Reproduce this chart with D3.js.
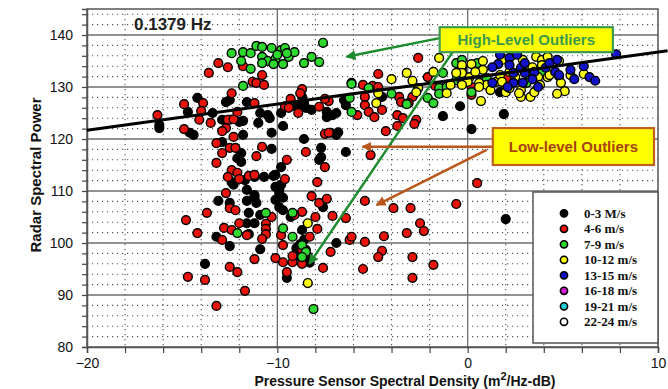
<!DOCTYPE html>
<html><head><meta charset="utf-8">
<script src="https://cdn.jsdelivr.net/npm/d3@7"></script>
<style>
html,body{margin:0;padding:0;background:#fff;}
svg{display:block;font-family:"Liberation Sans",Arial,sans-serif;}
</style></head><body>
<svg id="chart" width="668" height="389"></svg>
<script>
// ---------- DATA ----------
const xTickLabels = [-20, -10, 0, 10];
const yTickLabels = [80, 90, 100, 110, 120, 130, 140];
const seriesNames = ["0-3 M/s","4-6 m/s","7-9 m/s","10-12 m/s","13-15 m/s","16-18 m/s","19-21 m/s","22-24 m/s"];
const seriesColors = ["#000000","#e8140c","#2ed82e","#ffff14","#1212c8","#d21ed2","#1ed2dc","#ffffff"];

const wind0_3 = [
[-14.2,127.9],[-14.7,125.2],[-16.2,122.7],[-16.2,122.1],[-14.6,121.2],[-14.4,120.8],[-12.7,127.1],[-12.5,127.5],[-12.9,123.7],[-12.5,123.7],[-11.8,123.5],[-11.6,127.1],[-11.8,120.8],[-11.9,117.3],[-12.1,116.3],[-12.4,111.7],[-12.3,111.2],[-11.7,112.1],[-11.2,112.7],[-10.9,125.0],[-11.0,123.1],[-10.5,124.6],[-10.4,124.0],[-10.3,118.1],[-9.8,125.0],[-9.7,122.5],[-9.8,114.6],[-10.1,113.1],[-9.8,111.2],[-9.9,110.2],[-8.6,126.9],[-8.5,126.0],[-8.2,125.6],[-8.6,120.0],[-7.7,118.3],[-7.7,116.5],[-7.8,116.0],[-7.4,125.2],[-7.4,124.2],[-7.1,124.6],[-6.9,120.8],[-11.6,110.2],[-11.2,109.2],[-13.4,125.0],[-12.0,123.3],[-10.3,121.2],[-12.9,119.4],[-11.9,115.6],[-9.0,126.2],[-8.7,128.1],[-0.4,126.3],[-1.3,124.4],[1.9,124.8],[0.2,121.9],[-6.4,117.5],[-7.3,124.6],[-6.9,125.0],[-7.2,121.2],[-6.8,121.3],[-6.5,127.5],[-6.4,126.5],[-4.5,128.1],[1.7,129.0],
[-10.7,112.7],[-10.2,112.9],[-11.6,108.1],[-11.2,108.8],[-11.1,107.7],[-13.1,108.1],[-12.5,107.7],[-11.5,105.8],[-10.9,105.4],[-11.2,103.8],[-11.6,103.8],[-11.5,101.7],[-10.1,110.8],[-9.9,109.6],[-10.1,108.3],[-9.7,108.7],[-9.9,106.9],[-9.7,106.3],[-9.3,105.0],[-8.7,102.5],[-13.2,101.2],[-12.5,99.4],[-10.9,98.8],[-13.8,96.0],[-9.5,93.3],[-8.3,96.2],[-6.9,100.0],[-7.6,106.9],[2.0,104.6],[-9.0,99.0],[-8.8,99.8],[-8.5,98.7],[-8.9,97.5],[-8.4,97.5],[-8.6,100.6]
];
const wind4_6 = [
[-13.6,132.7],[-13.1,134.6],[-12.6,133.8],[-11.8,134.0],[-11.3,131.0],[-10.8,132.3],[-11.1,130.8],[-10.7,130.4],[-12.4,128.8],[-8.7,129.6],[-8.8,128.8],[-9.3,127.7],
[-4.7,132.5],[-2.6,135.6],[-5.5,130.4],[-5.0,130.2],[-4.7,130.0],[-5.4,128.1],[-6.1,130.8],[-3.6,128.1],[-2.9,128.1],[-3.5,127.1],[-2.1,131.9],[-1.7,130.2],[-1.1,130.4],[-0.3,133.7],[-0.4,132.3],[0.2,130.0],[2.3,131.3],[2.1,131.7],[0.2,128.5],[-3.1,126.9],[-7.3,127.3],[-7.5,127.7],[-7.8,126.2],
[-14.9,126.7],[-13.9,126.9],[-14.0,125.4],[-14.1,123.7],[-13.5,123.1],[-14.9,121.9],[-16.3,124.6],[-12.6,123.7],[-12.3,123.8],[-12.1,125.2],[-12.7,122.1],[-12.9,121.5],[-12.3,120.4],[-13.2,119.2],[-12.9,117.3],[-12.5,118.3],[-12.2,118.3],[-13.2,115.4],[-12.4,114.0],[-11.2,126.9],[-9.6,126.3],[-9.4,126.0],[-8.9,125.0],[-8.5,117.5],[-9.5,116.0],[-7.5,121.0],[-7.3,121.2],[-7.5,114.6],[-7.9,111.7],[-9.6,112.3],[-11.1,116.7],[-10.8,118.5],
[-5.4,126.5],[-5.2,125.2],[-5.8,124.6],[-4.9,124.2],[-4.5,125.6],[-3.7,124.6],[-2.7,123.7],[-2.8,122.9],[-3.4,124.0],[-3.7,122.5],[-4.3,121.5],[-5.1,116.9],[0.5,111.5],
[-12.1,113.5],[-12.6,112.7],[-12.0,112.3],[-11.5,112.9],[-11.2,113.1],[-12.7,109.6],[-12.5,106.7],[-12.2,106.3],[-13.7,105.8],[-14.8,104.4],[-14.2,101.9],[-12.8,102.9],[-12.4,102.5],[-12.0,103.8],[-12.9,100.6],[-10.6,103.7],[-10.6,102.7],[-10.6,101.7],[-10.8,100.8],[-9.8,101.5],[-8.7,106.0],[-9.1,105.4],[-9.7,99.6],[-11.2,96.9],[-10.1,97.1],[-9.7,96.3],[-9.2,96.3],[-8.7,96.0],[-12.5,95.4],[-12.1,94.4],[-14.7,93.5],[-13.8,92.9],[-9.5,94.4],[-11.7,90.8],[-13.2,87.9],
[-11.6,101.5],[-10.3,105.0],[-8.2,109.0],[-8.0,105.0],[-7.9,102.7],[-7.8,107.7],[-7.6,95.2],[-7.4,108.5],[-7.1,105.2],[-7.2,98.3],[-8.3,101.2],[-9.2,97.5],[-6.4,104.8],[-5.4,108.1],[-3.9,106.7],[-3.0,106.7],[-0.6,107.5],[-2.5,103.8],[-2.3,102.3],[-3.2,101.9],[-4.4,101.3],[-5.4,100.2],[-6.2,100.6],[-6.1,101.2],[-4.5,98.5],[-4.7,97.3],[-2.9,97.3],[-1.8,95.8],[-5.5,95.0],[-2.9,93.3],[-8.7,98.7]
];
const wind7_9 = [
[-12.4,136.5],[-11.8,136.7],[-11.4,136.5],[-11.1,137.9],[-10.8,137.7],[-10.3,137.5],[-9.8,137.1],[-9.6,137.5],[-9.4,135.8],[-9.1,136.7],[-11.9,135.0],[-11.4,133.5],[-10.8,135.8],[-10.5,135.0],[-10.8,134.6],[-10.1,135.4],[-10.2,134.4],[-9.7,134.4],[-10.0,136.2],[-9.5,136.5],[-8.6,134.6],[-8.2,135.8],[-7.8,134.8],[-7.6,138.5],[-11.8,130.2],
[-6.1,130.6],[-6.2,127.9],[-5.2,129.8],[-4.0,128.7],[-3.2,126.7],[-2.1,127.9],[-1.8,126.9],[-1.5,129.8],[-1.5,128.7],[-0.6,134.6],[-0.3,135.2],[0.5,134.6],[0.2,129.0],[1.0,131.7],[3.2,131.3],[3.4,132.7],[3.9,132.7],[-0.3,132.9],[-0.6,131.3],[-1.1,130.0],[-1.3,132.7],[-6.1,125.2],[3.1,130.8],
[-10.6,105.8],[-9.2,105.8],[-12.1,101.9],[-9.7,102.8],[-9.2,101.2],[-8.7,99.6],[-8.5,98.3],[-8.7,97.3],[-8.1,87.3]
];
const wind10_12 = [
[-3.2,132.7],[-4.0,131.5],[-2.9,131.2],[-1.8,132.9],[-1.5,135.6],[-4.8,126.9],[-2.6,129.8],[-0.9,130.4],[-1.1,128.8],[0.2,134.4],[0.8,135.0],[0.8,133.3],[1.0,130.4],[0.7,127.3],[1.5,131.0],[2.0,129.0],[2.8,129.4],[2.8,128.1],[3.3,128.1],[2.9,135.2],[3.6,135.8],[3.9,135.2],[4.8,135.0],[4.8,132.1],[4.9,130.8],[5.1,129.2],[4.7,128.7],[4.2,131.9],[3.7,131.9],[2.5,131.9],[1.7,132.3],[2.2,132.9],[0.1,131.9],[-0.3,131.0],[0.6,130.8],[6.1,132.5],[3.8,130.4],[-0.3,134.2],[0.4,132.9],[-0.3,132.7],[0.0,131.0],[0.6,130.0],[1.2,129.4],[1.8,131.0],[2.2,129.8],[2.7,128.8],[3.4,133.8],[4.3,132.3],[5.4,132.3],[3.5,129.0],[1.8,135.2],[2.4,136.2],[4.2,135.8],[3.9,134.2],[-4.7,128.8],[-2.7,129.0],[-0.3,130.4],[-0.6,132.7],
[-8.4,103.8],[-8.4,92.3]
];
const wind13_15 = [
[1.7,136.2],[2.2,135.6],[2.6,136.2],[2.2,134.2],[1.6,134.4],[1.3,133.8],[2.8,133.7],[2.4,132.7],[3.0,132.7],[3.5,132.9],[4.1,133.7],[4.3,134.6],[4.6,132.9],[4.8,132.3],[5.4,133.3],[6.1,134.0],[5.6,131.5],[6.4,131.9],[6.7,131.2],[7.8,136.3],[3.7,130.0],[2.4,130.8],[1.3,130.8],[2.1,130.0],[3.4,131.5],[3.0,134.6],[4.7,135.2],[2.9,130.8]
];
const wind16_18 = [];
const wind19_21 = [];
const wind22_24 = [];
const seriesData = [wind0_3, wind4_6, wind7_9, wind10_12, wind13_15, wind16_18, wind19_21, wind22_24];

// fitted trend line
const trendIntercept = 131.7, trendSlope = 0.5, trendXStart = -20, trendXEnd = 10.5;

// ---------- LAYOUT ----------
const svg = d3.select("#chart");
const L = 87, R = 658, T = 9, B = 347;
const x = d3.scaleLinear().domain([-20, 10]).range([L, R]);
const y = d3.scaleLinear().domain([80, 145]).range([B, T]);

svg.append("rect").attr("width", 668).attr("height", 389).attr("fill", "#fff");

const minorX = d3.range(-20, 10.001, 2);
const minorY = d3.range(80, 145.001, 2);
const g = svg.append("g");
g.selectAll(".mx").data(minorX.filter(v => v % 10 !== 0)).join("line")
  .attr("x1", d => x(d)).attr("x2", d => x(d)).attr("y1", T).attr("y2", B)
  .attr("stroke", "#555").attr("stroke-width", 1.1).attr("stroke-dasharray", "1.2,3.8");
g.selectAll(".my").data(minorY.filter(v => v % 10 !== 0)).join("line")
  .attr("y1", d => y(d)).attr("y2", d => y(d)).attr("x1", L).attr("x2", R)
  .attr("stroke", "#555").attr("stroke-width", 1.1).attr("stroke-dasharray", "1.2,3.8");
g.selectAll(".Mx").data(xTickLabels.filter(v => v > -20 && v < 10)).join("line")
  .attr("x1", d => x(d)).attr("x2", d => x(d)).attr("y1", T).attr("y2", B)
  .attr("stroke", "#6e6e6e").attr("stroke-width", 1.3);
g.selectAll(".My").data(yTickLabels.filter(v => v > 80)).join("line")
  .attr("y1", d => y(d)).attr("y2", d => y(d)).attr("x1", L).attr("x2", R)
  .attr("stroke", "#6e6e6e").attr("stroke-width", 1.3);
svg.append("rect").attr("x", L).attr("y", T).attr("width", R - L).attr("height", B - T)
  .attr("fill", "none").attr("stroke", "#555").attr("stroke-width", 1.5);

// axes
const xAxis = d3.axisBottom(x).tickValues(minorX).tickSize(6).tickPadding(5)
  .tickFormat(d => xTickLabels.includes(d) ? d3.format("d")(d) : "");
const gx = svg.append("g").attr("transform", `translate(0,${B})`).call(xAxis);
const yAxis = d3.axisLeft(y).tickValues(minorY).tickSize(5).tickPadding(9)
  .tickFormat(d => yTickLabels.includes(d) ? d3.format("d")(d) : "");
const gy = svg.append("g").attr("transform", `translate(${L},0)`).call(yAxis);
[gx, gy].forEach(a => {
  a.select(".domain").attr("stroke", "#555").attr("stroke-width", 1.5);
  a.selectAll(".tick line").attr("stroke", "#444").attr("stroke-width", 1.2);
  a.selectAll("text").attr("font-size", 14).attr("fill", "#111")
    .attr("font-family", '"Liberation Sans",Arial,sans-serif');
});

// axis titles
const xt = svg.append("text").attr("x", 405).attr("y", 386).attr("text-anchor", "middle")
  .attr("font-size", 14).attr("font-weight", "bold").attr("fill", "#111");
xt.append("tspan").text("Pressure Sensor Spectral Density (m");
xt.append("tspan").attr("font-size", 11).attr("dy", -6).text("2");
xt.append("tspan").attr("dy", 6).text("/Hz-dB)");
svg.append("text").attr("transform", "translate(41,175) rotate(-90)").attr("text-anchor", "middle")
  .attr("font-size", 15).attr("font-weight", "bold").attr("fill", "#111").text("Radar Spectral Power");

svg.append("text").attr("x", 134).attr("y", 30).attr("font-size", 17).attr("font-weight", "bold")
  .attr("fill", "#222").text("0.1379 Hz");

// points
const pts = svg.append("g");
seriesData.forEach((arr, i) => {
  pts.append("g").selectAll("circle").data(arr).join("circle")
    .attr("cx", d => x(d[0])).attr("cy", d => y(d[1])).attr("r", 4.4)
    .attr("fill", seriesColors[i]).attr("stroke", "#000").attr("stroke-width", 1.4);
});

// trend line
svg.append("line")
  .attr("x1", x(trendXStart)).attr("y1", y(trendIntercept + trendSlope * trendXStart))
  .attr("x2", x(trendXEnd)).attr("y2", y(trendIntercept + trendSlope * trendXEnd))
  .attr("stroke", "#000").attr("stroke-width", 3);

// legend
const lg = svg.append("g");
lg.append("rect").attr("x", 533).attr("y", 192).attr("width", 125).attr("height", 151)
  .attr("fill", "#fff").attr("stroke", "#555").attr("stroke-width", 1.5);
seriesNames.forEach((name, i) => {
  const cy = 213.3 + i * 15.5;
  lg.append("circle").attr("cx", 564).attr("cy", cy).attr("r", 3.6)
    .attr("fill", seriesColors[i]).attr("stroke", "#000").attr("stroke-width", 1.6);
  lg.append("text").attr("x", 584).attr("y", cy + 4.5).attr("font-size", 13).attr("font-weight", "bold")
    .attr("font-family", '"Liberation Serif","Times New Roman",serif').attr("fill", "#111").text(name);
});

// annotations (data coordinates)
const defs = svg.append("defs");
function marker(id, color) {
  defs.append("marker").attr("id", id).attr("viewBox", "0 0 10 10").attr("refX", 9).attr("refY", 5)
    .attr("markerWidth", 4).attr("markerHeight", 4).attr("orient", "auto").attr("markerUnits", "strokeWidth")
    .append("path").attr("d", "M0,0 L10,5 L0,10 z").attr("fill", color);
}
const greenC = "#1e8c2e", brownC = "#b9561c";
marker("ag", greenC); marker("ab", brownC);
const arrows = [
  {from: [-1.47, 139.4], to: [-6.37, 135.8], c: greenC, m: "ag"},
  {from: [-0.79, 136.7], to: [-8.32, 96.0], c: greenC, m: "ag"},
  {from: [1.32, 118.5], to: [-5.53, 118.5], c: brownC, m: "ab"},
  {from: [1.0, 117.9], to: [-4.79, 107.3], c: brownC, m: "ab"}
];
arrows.forEach(a => {
  svg.append("line").attr("x1", x(a.from[0])).attr("y1", y(a.from[1]))
    .attr("x2", x(a.to[0])).attr("y2", y(a.to[1]))
    .attr("stroke", a.c).attr("stroke-width", 2.5).attr("marker-end", `url(#${a.m})`);
});
const boxes = [
  {x0: -1.47, x1: 7.63, y0: 141.5, y1: 136.7, text: "High-Level Outliers", stroke: "#3d9a4e", color: "#3a9a4c"},
  {x0: 1.32, x1: 9.79, y0: 122.1, y1: 115.0, text: "Low-level Outliers", stroke: "#c0601e", color: "#a8430e"}
];
boxes.forEach(b => {
  svg.append("rect").attr("x", x(b.x0)).attr("y", y(b.y0))
    .attr("width", x(b.x1) - x(b.x0)).attr("height", y(b.y1) - y(b.y0))
    .attr("fill", "#ffff00").attr("stroke", b.stroke).attr("stroke-width", 2.2);
  svg.append("text").attr("x", (x(b.x0) + x(b.x1)) / 2).attr("y", (y(b.y0) + y(b.y1)) / 2 + 5.5)
    .attr("text-anchor", "middle").attr("font-size", 15).attr("font-weight", "bold")
    .attr("fill", b.color).text(b.text);
});
</script>
</body></html>
